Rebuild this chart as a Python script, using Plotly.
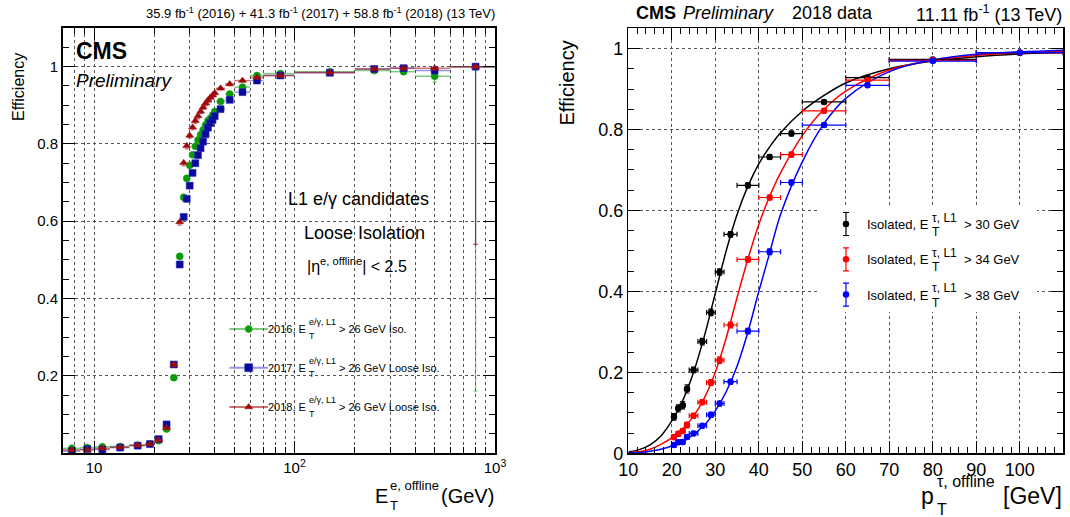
import plotly.graph_objects as go

W, H = 1070, 517
FONT = "Liberation Sans, Arial, Helvetica, sans-serif"

# ---------------- left panel: L1 e/gamma efficiency ----------------
e_bin_edges = [7, 8.5, 10, 12, 15, 18, 20, 22, 24, 26, 27.5, 28.5, 29.5, 30.5, 31.5,
               32.5, 33.5, 34.5, 35.5, 36.5, 37.5, 38.5, 39.5, 40.5, 45, 50, 60, 70,
               100, 200, 300, 400, 600, 1000]
eff_2016 = [0.012, 0.014, 0.016, 0.017, 0.020, 0.024, 0.032, 0.062, 0.195, 0.509,
            0.662, 0.711, 0.745, 0.772, 0.794, 0.810, 0.824, 0.836, 0.849, 0.860,
            0.866, 0.874, 0.884, 0.910, 0.929, 0.947, 0.977, 0.982, 0.987, 0.990,
            0.987, 0.975, 1.000]
eff_2017 = [0.005, 0.010, 0.009, 0.014, 0.019, 0.023, 0.036, 0.074, 0.229, 0.488,
            0.611, 0.658, 0.692, 0.725, 0.750, 0.771, 0.789, 0.806, 0.825, 0.842,
            0.854, 0.862, 0.872, 0.890, 0.914, 0.934, 0.964, 0.977, 0.984, 0.994,
            0.996, 0.990, 1.000]
eff_2018 = [0.008, 0.008, 0.012, 0.015, 0.020, 0.023, 0.033, 0.065, 0.229, 0.598,
            0.751, 0.795, 0.822, 0.843, 0.860, 0.872, 0.884, 0.895, 0.905, 0.913,
            0.920, 0.926, 0.932, 0.944, 0.955, 0.964, 0.972, 0.977, 0.985, 0.994,
            0.996, 0.996, 1.000]
errlo_2016 = [0.002, 0.002, 0.002, 0.002, 0.002, 0.002, 0.003, 0.004, 0.006, 0.008,
              0.008, 0.008, 0.007, 0.007, 0.007, 0.007, 0.006, 0.006, 0.006, 0.006,
              0.006, 0.006, 0.006, 0.004, 0.004, 0.003, 0.003, 0.003, 0.003, 0.004,
              0.006, 0.015, 0.840]
errlo_2017 = [0.002, 0.002, 0.002, 0.002, 0.002, 0.002, 0.003, 0.004, 0.006, 0.008,
              0.008, 0.008, 0.007, 0.007, 0.007, 0.007, 0.006, 0.006, 0.006, 0.006,
              0.006, 0.006, 0.006, 0.004, 0.004, 0.003, 0.003, 0.003, 0.003, 0.003,
              0.004, 0.008, 0.460]
errlo_2018 = [0.002, 0.002, 0.002, 0.002, 0.002, 0.002, 0.003, 0.004, 0.006, 0.008,
              0.008, 0.008, 0.007, 0.007, 0.007, 0.007, 0.006, 0.006, 0.006, 0.006,
              0.006, 0.006, 0.006, 0.004, 0.004, 0.003, 0.003, 0.003, 0.003, 0.003,
              0.004, 0.006, 0.460]
e_xticks = [10, 100, 1000]
e_xticktext = ["10", "10<sup>2</sup>", "10<sup>3</sup>"]
e_xminor = [8, 9, 20, 30, 40, 50, 60, 70, 80, 90, 200, 300, 400, 500, 600, 700, 800, 900]
e_yticks = [0.2, 0.4, 0.6, 0.8, 1.0]
e_yticktext = ["0.2", "0.4", "0.6", "0.8", "1"]

# ---------------- right panel: L1 tau efficiency ----------------
tau_bin_edges = [20, 21, 22, 23, 24, 26, 28, 30, 32, 35, 40, 45, 50, 60, 70, 90, 110]
eff_tau30 = [0.090, 0.111, 0.119, 0.159, 0.206, 0.276, 0.348, 0.448, 0.541, 0.662,
             0.732, 0.790, 0.868, 0.928, 0.973, 0.989]
eff_tau34 = [0.040, 0.048, 0.055, 0.070, 0.093, 0.126, 0.175, 0.230, 0.317, 0.479,
             0.632, 0.738, 0.846, 0.922, 0.971, 0.990]
eff_tau38 = [0.0205, 0.027, 0.028, 0.040, 0.049, 0.068, 0.095, 0.123, 0.177, 0.302,
             0.498, 0.669, 0.811, 0.909, 0.969, 0.990]
err_tau30 = [0.008, 0.009, 0.009, 0.010, 0.007, 0.008, 0.008, 0.008, 0.007, 0.006,
             0.006, 0.006, 0.004, 0.004, 0.003, 0.003]
err_tau34 = [0.006, 0.006, 0.006, 0.007, 0.006, 0.006, 0.007, 0.008, 0.007, 0.007,
             0.006, 0.006, 0.005, 0.004, 0.003, 0.003]
err_tau38 = [0.004, 0.005, 0.005, 0.005, 0.005, 0.005, 0.006, 0.006, 0.006, 0.007,
             0.007, 0.006, 0.005, 0.004, 0.003, 0.003]
# fitted turn-on curves
fit_x = [10, 12.5, 15, 17.5, 20, 22.5, 25, 27.5, 30, 32.5, 35, 37.5, 40, 42.5, 45,
         50, 55, 60, 70, 80, 90, 100, 110]
fit_tau30 = [0.003, 0.009, 0.021, 0.043, 0.080, 0.130, 0.200, 0.290, 0.395, 0.500,
             0.590, 0.660, 0.715, 0.757, 0.792, 0.845, 0.884, 0.915, 0.950, 0.969,
             0.980, 0.987, 0.991]
fit_tau34 = [0.001, 0.004, 0.010, 0.022, 0.038, 0.060, 0.092, 0.137, 0.200, 0.285,
             0.385, 0.480, 0.565, 0.635, 0.693, 0.785, 0.850, 0.895, 0.947, 0.971,
             0.983, 0.989, 0.993]
fit_tau38 = [0.0005, 0.002, 0.005, 0.010, 0.018, 0.029, 0.047, 0.070, 0.105, 0.152,
             0.215, 0.300, 0.400, 0.495, 0.590, 0.720, 0.815, 0.877, 0.943, 0.972,
             0.986, 0.992, 0.996]
t_xticks = [10, 20, 30, 40, 50, 60, 70, 80, 90, 100]
t_yticks = [0, 0.2, 0.4, 0.6, 0.8, 1.0]
t_yticktext = ["0", "0.2", "0.4", "0.6", "0.8", "1"]


def centers(edges):
    return [(a + b) / 2 for a, b in zip(edges[:-1], edges[1:])]


def half_widths(edges):
    c = centers(edges)
    return [b - m for b, m in zip(edges[1:], c)], [m - a for a, m in zip(edges[:-1], c)]


def fx(px):  # window pixel -> paper fraction
    return px / W


def fy(py):
    return 1 - py / H


fig = go.Figure()

# left series
ex = centers(e_bin_edges)
exp_, exm = half_widths(e_bin_edges)
left_series = [
    (eff_2016, errlo_2016, "#0a9a0a", "rgba(20,160,20,0.55)", "circle", 7),
    (eff_2017, errlo_2017, "#0a0a9a", "rgba(40,40,200,0.5)", "square", 7),
    (eff_2018, errlo_2018, "#9a0a0a", "rgba(170,20,20,0.6)", "triangle-up", 7),
]
for ys, elo, col, ecol, sym, sz in left_series:
    fig.add_trace(go.Scatter(
        x=ex, y=ys, mode="markers", xaxis="x", yaxis="y",
        marker=dict(symbol=sym, size=sz, color=col,
                    line=dict(width=1, color=ecol)),
        error_x=dict(type="data", symmetric=False, array=exp_, arrayminus=exm,
                     color=ecol, thickness=1.5, width=0),
        error_y=dict(type="data", symmetric=False, array=[0] * len(ys),
                     arrayminus=elo, color=ecol, thickness=1.2, width=2),
        showlegend=False, hoverinfo="skip"))

# right series: curves then points
tx = centers(tau_bin_edges)
txp, txm = half_widths(tau_bin_edges)
right_series = [
    (eff_tau30, err_tau30, fit_tau30, "#000000"),
    (eff_tau34, err_tau34, fit_tau34, "#ff0000"),
    (eff_tau38, err_tau38, fit_tau38, "#0000ff"),
]
for ys, ey, fyv, col in right_series:
    fig.add_trace(go.Scatter(
        x=fit_x, y=fyv, mode="lines", xaxis="x2", yaxis="y2",
        line=dict(color=col, width=1.5, shape="spline", smoothing=1.0),
        showlegend=False, hoverinfo="skip"))
for ys, ey, fyv, col in right_series:
    fig.add_trace(go.Scatter(
        x=tx, y=ys, mode="markers", xaxis="x2", yaxis="y2",
        marker=dict(symbol="circle", size=6.5, color=col),
        error_x=dict(type="data", symmetric=False, array=txp, arrayminus=txm,
                     color=col, thickness=1.2, width=2.5),
        error_y=dict(type="data", array=ey, color=col, thickness=1.2, width=2.5),
        showlegend=False, hoverinfo="skip"))

# ---------------- legend keys (pixel overlay axis) ----------------
leg_left_y = [329, 367.7, 407]
for (ys, elo, col, ecol, sym, sz), ly in zip(left_series, leg_left_y):
    fig.add_trace(go.Scatter(
        x=[248.7], y=[ly], mode="markers", xaxis="x3", yaxis="y3",
        marker=dict(symbol=sym, size=sz + (1 if sym == "square" else 0), color=col,
                    line=dict(width=1, color=ecol)),
        error_x=dict(type="data", array=[19.2], color=ecol, thickness=2, width=0),
        showlegend=False, hoverinfo="skip"))
leg_right_y = [224, 259.3, 294.6]
for (ys, ey, fyv, col), ly in zip(right_series, leg_right_y):
    fig.add_trace(go.Scatter(
        x=[846], y=[ly], mode="markers", xaxis="x3", yaxis="y3",
        marker=dict(symbol="circle", size=6.5, color=col),
        error_y=dict(type="data", array=[11.5], color=col, thickness=1.2, width=3),
        showlegend=False, hoverinfo="skip"))

# ---------------- axes ----------------
LX0, LX1, LY0, LY1 = 63, 495, 28, 453
RX0, RX1, RY0, RY1 = 628.3, 1063.3, 28.3, 453.3
grid = dict(showgrid=True, gridcolor="#555555", griddash="dot", gridwidth=1)

common = dict(ticks="inside", showline=True, linecolor="black", mirror="allticks",
              zeroline=False, tickcolor="black", automargin=False,
              tickfont=dict(family=FONT, color="black"))

fig.update_layout(
    template="none",
    xaxis=dict(domain=[fx(LX0), fx(LX1)], anchor="y", type="log",
               range=[0.845098, 3], tickvals=e_xticks, ticktext=e_xticktext,
               ticklen=12, tickwidth=1, linewidth=2,
               minor=dict(tickvals=e_xminor, ticks="inside", ticklen=6,
                          tickcolor="black", **grid),
               **grid, **common),
    yaxis=dict(domain=[fy(LY1), fy(LY0)], anchor="x", range=[0, 1.1],
               tickvals=e_yticks, ticktext=e_yticktext, ticklen=12, tickwidth=1,
               linewidth=2,
               minor=dict(dtick=0.05, tick0=0, ticks="inside", ticklen=6,
                          tickcolor="black", showgrid=False),
               **grid, **common),
    xaxis2=dict(domain=[fx(RX0), fx(RX1)], anchor="y2", range=[10, 110],
                tickvals=t_xticks, ticklen=12, tickwidth=1, linewidth=1.5,
                minor=dict(dtick=2, tick0=10, ticks="inside", ticklen=6,
                           tickcolor="black", showgrid=False),
                **grid, **common),
    yaxis2=dict(domain=[fy(RY1), fy(RY0)], anchor="x2", range=[0, 1.05],
                tickvals=t_yticks, ticktext=t_yticktext, ticklen=12, tickwidth=1,
                linewidth=1.5,
                minor=dict(dtick=0.05, tick0=0, ticks="inside", ticklen=6,
                           tickcolor="black", showgrid=False),
                **grid, **common),
    xaxis3=dict(domain=[0, 1], anchor="y3", range=[0, W], visible=False,
                fixedrange=True, automargin=False),
    yaxis3=dict(domain=[0, 1], anchor="x3", range=[H, 0], visible=False,
                fixedrange=True, automargin=False),
)
fig.layout.xaxis.tickfont.size = 15
fig.layout.yaxis.tickfont.size = 15
fig.layout.xaxis2.tickfont.size = 18
fig.layout.yaxis2.tickfont.size = 18

# white box behind right legend
fig.add_shape(type="rect", xref="x2", yref="y2", layer="between",
              x0=10 + (817 - RX0) / 4.35, x1=10 + (1037 - RX0) / 4.35,
              y0=(RY1 - 312) / 405, y1=(RY1 - 205) / 405,
              fillcolor="white", line=dict(width=0))

# ---------------- texts ----------------
ann = []


def txt(x, y, s, size, xa="left", ya="middle", angle=0):
    ann.append(dict(x=fx(x), y=fy(y), xref="paper", yref="paper", text=s,
                    showarrow=False, xanchor=xa, yanchor=ya, textangle=angle,
                    borderpad=0, font=dict(size=size, family=FONT, color="black")))


def stacked(x_end, y, base, sup, sub, rest, x_rest, size, ssize, up, down, rest_anchor="left"):
    txt(x_end, y, base, size, xa="right")
    txt(x_end + 0.5, y - up, sup, ssize)
    txt(x_end + 0.5, y + down, sub, ssize)
    txt(x_rest, y, rest, size, xa=rest_anchor)


# left panel
txt(496, 13, "35.9 fb<sup>-1</sup> (2016) + 41.3 fb<sup>-1</sup> (2017) + "
    "58.8 fb<sup>-1</sup> (2018) (13 TeV)", 13, xa="right")
txt(75, 51, "<b>CMS</b>", 23)
txt(75, 80, "<i>Preliminary</i>", 19)
txt(358.7, 199, "L1 e/\u03b3 candidates", 18, xa="center")
txt(364, 233, "Loose Isolation", 18, xa="center")
txt(356.5, 265, "|\u03b7<sup>e, offline</sup>| < 2.5", 16, xa="center")
leg_left_rest = ["> 26 GeV Iso.", "> 26 GeV Loose Iso.", "> 26 GeV Loose Iso."]
for yr, ly, rest in zip(["2016", "2017", "2018"], leg_left_y, leg_left_rest):
    stacked(307, ly, yr + ", E", "e/\u03b3, L1", "T", rest, 338.3, 11, 9, 7, 6.5)
txt(18, 52, "Efficiency", 16, xa="center", ya="top", angle=-90)
stacked(388.5, 496, "E", "e, offline", "T", "(GeV)", 495, 20, 13, 10.5, 9.5,
        rest_anchor="right")

# right panel
txt(635, 13, "<b>CMS</b>", 18)
txt(681.7, 13, "<i>Preliminary</i>", 18)
txt(790.7, 13, "2018 data", 18)
txt(1063.3, 13, "11.11 fb<sup>-1</sup> (13 TeV)", 18, xa="right")
txt(567, 40, "Efficiency", 20, xa="center", ya="top", angle=-90)
stacked(935, 496, "p", "\u03c4, offline", "T", "[GeV]", 1063.3, 23, 16, 15, 13,
        rest_anchor="right")
for thr, ly in zip(["30", "34", "38"], leg_right_y):
    stacked(930, ly + 0.5, "Isolated, E", "\u03c4, L1", "T", "> " + thr + " GeV",
            962.7, 13, 12, 7, 7.5)

fig.update_layout(
    width=W, height=H, margin=dict(l=0, r=0, t=0, b=0, pad=0),
    paper_bgcolor="white", plot_bgcolor="rgba(0,0,0,0)",
    showlegend=False, annotations=ann, hovermode=False, dragmode=False,
    font=dict(family=FONT, color="black"),
)

# place the figure at the very corner of the page (no default body margin)
fig.write_html("out.html",
               config={"displayModeBar": False, "staticPlot": True},
               post_script="document.body.style.margin='0px';"
                           "document.body.style.overflow='hidden';")
